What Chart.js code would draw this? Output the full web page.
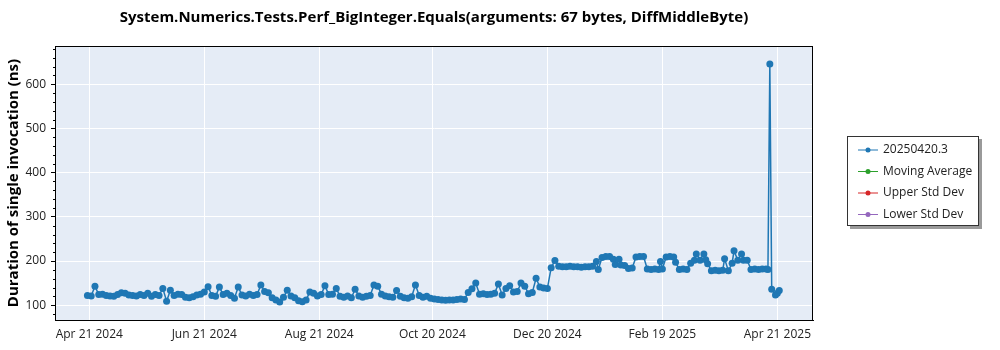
<!DOCTYPE html>
<html>
<head>
<meta charset="utf-8">
<script src="https://cdn.jsdelivr.net/npm/chart.js@4.4.1/dist/chart.umd.min.js"></script>
<style>
  body { margin: 0; background: #fff; }
</style>
</head>
<body>
<canvas id="perfChart" width="1000" height="350"></canvas>
<script>
// days since Apr 21 2024 for each run, and measured duration (ns)
var runDays = [
  -1, 1, 3, 5, 7, 9, 11, 13, 15, 17, 19, 21, 23, 25, 27, 29, 31, 33, 35, 37, 39, 41, 43, 45, 47, 49, 51, 53, 55, 57, 59,
  61, 63, 65, 67, 69, 71, 73, 75, 77, 79, 81, 83, 85, 87, 89, 91, 93, 95, 97, 99, 101, 103, 105, 107, 109, 111, 113, 115, 117, 119,
  121, 123, 125, 127, 129, 131, 133, 135, 137, 139, 141, 143, 145, 147, 149, 151, 153, 155, 157, 159, 161, 163, 165, 167, 169, 171, 173, 175, 177, 179, 181,
  183, 185, 187, 189, 191, 193, 195, 197, 199, 201, 203, 205, 207, 209, 211, 213, 215, 217, 219, 221, 223, 225, 227, 229, 231, 233, 235, 237, 239, 241, 243,
  245, 247, 249, 251, 253, 255, 257, 259, 261, 263, 265, 267, 269, 270, 272, 274, 276, 278, 279, 281, 282, 284, 286, 288,
  290, 292, 294, 296, 298, 300, 302, 303, 304, 306, 308, 310, 311, 313, 315, 317, 319, 321, 322, 324, 326, 327, 328,
  330, 332, 334, 336, 337, 339, 341, 342, 344, 346, 347, 349, 351, 353, 355, 357, 359, 360, 361, 362, 364, 365, 366
];
var durations = [
  122, 121, 143, 124, 125, 122, 121, 120, 124, 128, 127, 123, 122, 121, 124, 122, 127, 120, 124, 122, 138, 109, 134, 122, 125, 124, 118, 117, 119, 123, 125,
  130, 142, 122, 120, 141, 124, 127, 122, 116, 141, 123, 121, 125, 122, 124, 146, 131, 128, 117, 112, 107, 118, 134, 121, 117, 110, 108, 112, 130, 127,
  121, 124, 144, 124, 125, 138, 120, 118, 121, 117, 136, 121, 118, 120, 122, 146, 143, 125, 121, 119, 118, 133, 120, 117, 116, 119, 146, 122, 118, 120, 116,
  114, 113, 112, 111, 112, 112, 113, 114, 113, 129, 137, 150, 125, 126, 124, 125, 127, 148, 123, 138, 144, 130, 131, 150, 143, 126, 129, 161, 141, 139, 138,
  185, 201, 188, 187, 187, 188, 187, 187, 186, 187, 187, 188, 199, 181, 208, 210, 210, 204, 192, 204, 191, 190, 183, 184,
  209, 210, 210, 182, 181, 182, 181, 199, 182, 209, 210, 209, 197, 181, 182, 181, 195, 202, 216, 202, 216, 203, 194,
  178, 179, 178, 179, 205, 178, 195, 223, 202, 216, 202, 202, 181, 182, 181, 182, 182, 181, 646, 136, 123, 127, 133
];

var xTickDays = [0, 61, 122, 182, 243, 304, 365];
var xTickLabels = ['Apr 21 2024', 'Jun 21 2024', 'Aug 21 2024', 'Oct 20 2024', 'Dec 20 2024', 'Feb 19 2025', 'Apr 21 2025'];
var yTickValues = [100, 200, 300, 400, 500, 600];

var seriesNames = ['20250420.3', 'Moving Average', 'Upper Std Dev', 'Lower Std Dev'];
var seriesColors = ['#1f77b4', '#2ca02c', '#d62728', '#9467bd'];

var FONT = "'Segoe UI', 'Open Sans', sans-serif";

var points = runDays.map(function (d, i) { return { x: d, y: durations[i] }; });

// plot background + closed frame + minor ticks on the y axis
var plotFrame = {
  id: 'plotFrame',
  beforeDraw: function (chart) {
    var a = chart.chartArea, ctx = chart.ctx;
    ctx.save();
    ctx.fillStyle = '#e5ecf6';
    ctx.fillRect(a.left, a.top, a.right - a.left, a.bottom - a.top);
    ctx.restore();
  },
  afterDraw: function (chart) {
    var a = chart.chartArea, ctx = chart.ctx, y = chart.scales.y;
    ctx.save();
    ctx.strokeStyle = '#000';
    ctx.lineWidth = 1;
    ctx.strokeRect(a.left + 0.5, a.top + 0.5, a.right - a.left - 1, a.bottom - a.top);
    ctx.beginPath();
    for (var v = 80; v <= 680; v += 20) {
      if (v % 100 === 0) continue;
      var py = Math.round(y.getPixelForValue(v)) + 0.5;
      ctx.moveTo(a.left - 2, py);
      ctx.lineTo(a.left, py);
    }
    ctx.stroke();
    ctx.restore();
  }
};

// boxed legend with a drop shadow, to the right of the plot
var boxLegend = {
  id: 'boxLegend',
  afterDraw: function (chart) {
    var ctx = chart.ctx;
    var bx = 847, by = 136, bw = 132, bh = 90;
    ctx.save();
    ctx.fillStyle = '#9a9a9a';
    ctx.fillRect(bx + 3, by + 3, bw, bh);
    ctx.fillStyle = '#fff';
    ctx.fillRect(bx, by, bw, bh);
    ctx.strokeStyle = '#333';
    ctx.lineWidth = 1;
    ctx.strokeRect(bx + 0.5, by + 0.5, bw - 1, bh - 1);
    ctx.font = '12px ' + FONT;
    ctx.textBaseline = 'middle';
    chart.data.datasets.forEach(function (ds, i) {
      var ry = by + 14 + i * 21.5;
      ctx.strokeStyle = ds.borderColor;
      ctx.lineWidth = 1;
      ctx.beginPath();
      ctx.moveTo(bx + 11, ry);
      ctx.lineTo(bx + 31, ry);
      ctx.stroke();
      ctx.fillStyle = ds.borderColor;
      ctx.beginPath();
      ctx.arc(bx + 21, ry, 2.5, 0, Math.PI * 2);
      ctx.fill();
      ctx.fillStyle = '#222';
      ctx.fillText(ds.label, bx + 36, ry);
    });
    ctx.restore();
  }
};

var datasets = seriesNames.map(function (name, i) {
  return {
    label: name,
    data: i === 0 ? points : [],
    borderColor: seriesColors[i],
    backgroundColor: seriesColors[i],
    borderWidth: 1.5,
    pointRadius: 3.5,
    pointBorderWidth: 0,
    pointHoverRadius: 3.5,
    tension: 0
  };
});

new Chart(document.getElementById('perfChart'), {
  type: 'line',
  data: { datasets: datasets },
  plugins: [plotFrame, boxLegend],
  options: {
    responsive: false,
    animation: false,
    devicePixelRatio: 1,
    layout: { padding: { left: 0, right: 187, top: 0, bottom: 0 } },
    plugins: {
      legend: { display: false },
      tooltip: { enabled: false },
      title: {
        display: true,
        fullSize: false,
        text: 'System.Numerics.Tests.Perf_BigInteger.Equals(arguments: 67 bytes, DiffMiddleByte)',
        color: '#000',
        font: { family: FONT, size: 15, weight: 'bold' },
        padding: { top: 9, bottom: 19 }
      }
    },
    scales: {
      x: {
        type: 'linear',
        min: -18.2,
        max: 383.9,
        afterBuildTicks: function (s) { s.ticks = xTickDays.map(function (d) { return { value: d }; }); },
        afterFit: function (s) { s.height = 30; },
        ticks: {
          autoSkip: false,
          maxRotation: 0,
          padding: 7,
          color: '#222',
          font: { family: FONT, size: 12 },
          callback: function (v, i) { return xTickLabels[i]; }
        },
        grid: { color: '#fff', lineWidth: 1, drawTicks: false },
        border: { display: true, color: '#000', width: 1 }
      },
      y: {
        min: 66.5,
        max: 686.7,
        afterBuildTicks: function (s) { s.ticks = yTickValues.map(function (v) { return { value: v }; }); },
        afterFit: function (s) { s.width = 55; },
        ticks: {
          padding: 5,
          color: '#222',
          font: { family: FONT, size: 12 }
        },
        grid: { color: '#fff', lineWidth: 1, tickLength: 4, tickColor: '#000' },
        border: { display: true, color: '#000', width: 1 },
        title: {
          display: true,
          text: 'Duration of single invocation (ns)',
          color: '#000',
          font: { family: FONT, size: 15, weight: 'bold' },
          padding: { top: 5, bottom: 0 }
        }
      }
    }
  }
});
</script>
</body>
</html>
